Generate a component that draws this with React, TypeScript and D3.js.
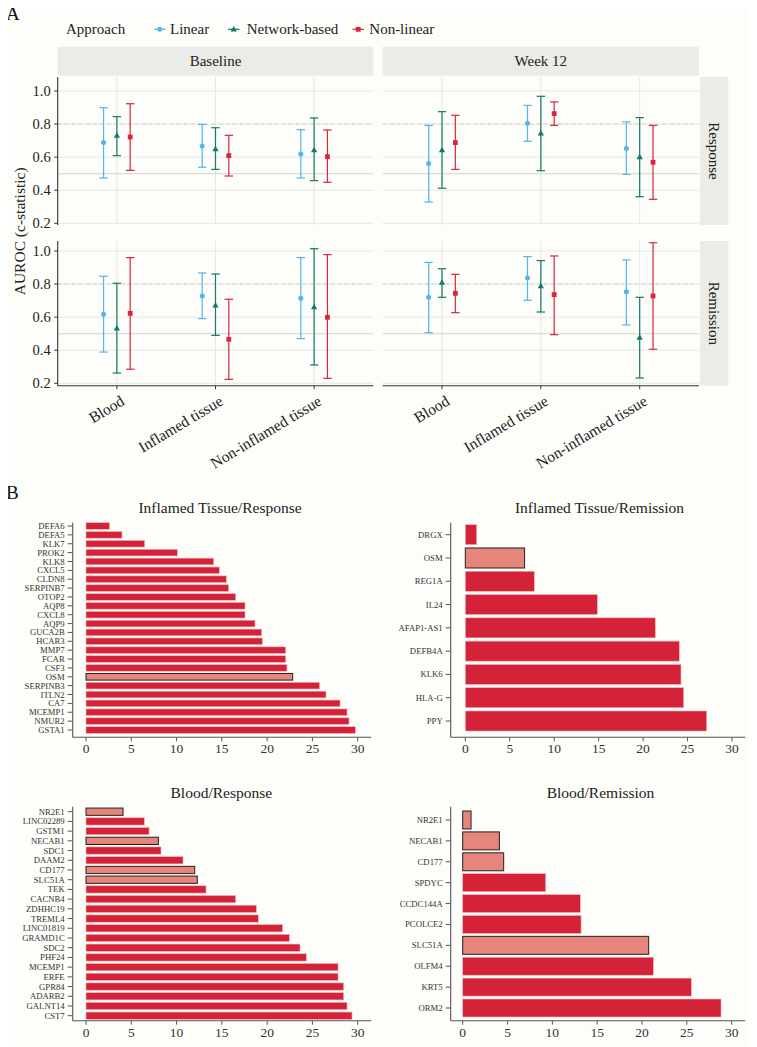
import React from "react";
import * as d3 from "d3";

const tissues = ["Blood", "Inflamed tissue", "Non-inflamed tissue"];
const approaches = ["Linear", "Network-based", "Non-linear"];
const timepoints = ["Baseline", "Week 12"];
const outcomes = ["Response", "Remission"];
const yTicks = [0.2, 0.4, 0.6, 0.8, 1.0];

// facet order: Baseline/Response, Week 12/Response, Baseline/Remission, Week 12/Remission
const linearEst = [[0.688, 0.667, 0.619], [0.561, 0.805, 0.653], [0.617, 0.728, 0.714], [0.72, 0.837, 0.754]];
const linearLo = [[0.474, 0.539, 0.474], [0.329, 0.696, 0.496], [0.389, 0.591, 0.47], [0.506, 0.702, 0.553]];
const linearHi = [[0.899, 0.798, 0.766], [0.792, 0.913, 0.813], [0.847, 0.867, 0.96], [0.931, 0.966, 0.946]];
const networkEst = [[0.73, 0.649, 0.643], [0.643, 0.744, 0.601], [0.532, 0.672, 0.661], [0.809, 0.788, 0.476]];
const networkLo = [[0.609, 0.526, 0.458], [0.412, 0.518, 0.361], [0.262, 0.49, 0.311], [0.72, 0.631, 0.232]];
const networkHi = [[0.845, 0.778, 0.837], [0.875, 0.968, 0.839], [0.805, 0.861, 1.014], [0.893, 0.942, 0.72]];
const nonlinearEst = [[0.722, 0.609, 0.603], [0.688, 0.863, 0.569], [0.623, 0.466, 0.599], [0.744, 0.736, 0.728]];
const nonlinearLo = [[0.52, 0.486, 0.448], [0.526, 0.792, 0.345], [0.285, 0.224, 0.23], [0.627, 0.494, 0.406]];
const nonlinearHi = [[0.923, 0.732, 0.764], [0.853, 0.934, 0.792], [0.96, 0.708, 0.978], [0.859, 0.97, 1.05]];

const approachColors = ["#56B4E9", "#127A66", "#D7263D"];

// Panel B
const itrGenes = ["DEFA6", "DEFA5", "KLK7", "PROK2", "KLK8", "CXCL5", "CLDN8", "SERPINB7", "OTOP2", "AQP8", "CXCL8", "AQP9", "GUCA2B", "HCAR3", "MMP7", "FCAR", "CSF3", "OSM", "SERPINB3", "ITLN2", "CA7", "MCEMP1", "NMUR2", "GSTA1"];
const itrValues = [2.61, 3.97, 6.48, 10.08, 14.1, 14.72, 15.5, 15.75, 16.53, 17.56, 17.56, 18.66, 19.4, 19.47, 22.05, 22.05, 22.19, 22.82, 25.8, 26.5, 28.05, 28.82, 29.04, 29.74];
const itrHighlight = ["OSM"];

const itmGenes = ["DRGX", "OSM", "REG1A", "IL24", "AFAP1-AS1", "DEFB4A", "KLK6", "HLA-G", "PPY"];
const itmValues = [1.27, 6.67, 7.76, 14.85, 21.37, 24.07, 24.26, 24.56, 27.15];
const itmHighlight = ["OSM"];

const brGenes = ["NR2E1", "LINC02289", "GSTM1", "NECAB1", "SDC1", "DAAM2", "CD177", "SLC51A", "TEK", "CACNB4", "ZDHHC19", "TREML4", "LINC01819", "GRAMD1C", "SDC2", "PHF24", "MCEMP1", "ERFE", "GPR84", "ADARB2", "GALNT14", "CST7"];
const brValues = [4.09, 6.44, 6.96, 7.99, 8.28, 10.71, 12.0, 12.29, 13.25, 16.53, 18.81, 19.03, 21.72, 22.45, 23.63, 24.33, 27.83, 27.83, 28.45, 28.45, 28.82, 29.37];
const brHighlight = ["NR2E1", "NECAB1", "CD177", "SLC51A"];

const bmGenes = ["NR2E1", "NECAB1", "CD177", "SPDYC", "CCDC144A", "PCOLCE2", "SLC51A", "OLFM4", "KRT5", "ORM2"];
const bmValues = [0.93, 4.09, 4.57, 9.26, 13.12, 13.2, 20.74, 21.26, 25.5, 28.81];
const bmHighlight = ["NR2E1", "NECAB1", "CD177", "SLC51A"];

const barTicks = [0, 5, 10, 15, 20, 25, 30];

const FONT = "'Liberation Serif', 'Times New Roman', serif";
const BG = "#FDFDF9";
const STRIP = "#EBEBE7";
const GRID = "#E5E5E0";
const BAR_RED = "#D42339";
const BAR_HL = "#E5857B";

function Marker({ kind, x, y, color }: { kind: number; x: number; y: number; color: string }) {
  if (kind === 0) return <circle cx={x} cy={y} r={2.5} fill={color} />;
  if (kind === 1) {
    const s = 3.3;
    const tri = d3.line()([[x, y - s], [x + s * 0.95, y + s * 0.65], [x - s * 0.95, y + s * 0.65]]) + "Z";
    return <path d={tri} fill={color} />;
  }
  return <rect x={x - 2.4} y={y - 2.4} width={4.8} height={4.8} fill={color} />;
}

function AurocPanel({ f, col, row, showY, showX }: any) {
  const x = d3.scalePoint().domain(tissues).range(col).padding(0.6);
  const y = d3.scaleLinear().domain([0.2, 1.0]).range([row.y02, row.y1]);
  const dodge = x.step() * 0.135;
  const series = [
    [linearEst, linearLo, linearHi],
    [networkEst, networkLo, networkHi],
    [nonlinearEst, nonlinearLo, nonlinearHi],
  ];
  return (
    <g>
      {yTicks.map((t) => (
        <line key={"h" + t} x1={col[0]} x2={col[1]} y1={y(t)} y2={y(t)} stroke={GRID} strokeWidth={0.9} />
      ))}
      {tissues.map((t) => (
        <line key={"v" + t} x1={x(t)} x2={x(t)} y1={row.top} y2={row.bottom} stroke={GRID} strokeWidth={0.9} />
      ))}
      <line x1={col[0]} x2={col[1]} y1={y(0.5)} y2={y(0.5)} stroke="#D3D3CE" strokeWidth={1.1} />
      <line x1={col[0]} x2={col[1]} y1={y(0.8)} y2={y(0.8)} stroke="#CFCFCB" strokeWidth={0.9} strokeDasharray="4,3" />
      {series.map((s, ai) =>
        tissues.map((t, ti) => {
          const cx = (x(t) as number) + (ai - 1) * dodge;
          const c = approachColors[ai];
          const est = s[0][f][ti], lo = s[1][f][ti], hi = s[2][f][ti];
          return (
            <g key={ai + "-" + ti}>
              <line x1={cx} x2={cx} y1={y(lo)} y2={y(hi)} stroke={c} strokeWidth={1.2} />
              <line x1={cx - 4.2} x2={cx + 4.2} y1={y(lo)} y2={y(lo)} stroke={c} strokeWidth={1.2} />
              <line x1={cx - 4.2} x2={cx + 4.2} y1={y(hi)} y2={y(hi)} stroke={c} strokeWidth={1.2} />
              <Marker kind={ai} x={cx} y={y(est)} color={c} />
            </g>
          );
        })
      )}
      {showY && (
        <g>
          <line x1={col[0]} x2={col[0]} y1={row.top} y2={row.bottom} stroke="#333" strokeWidth={1.1} />
          {yTicks.map((t) => (
            <g key={"yt" + t}>
              <line x1={col[0] - 3.5} x2={col[0]} y1={y(t)} y2={y(t)} stroke="#333" strokeWidth={1} />
              <text x={col[0] - 7} y={y(t)} dy="0.35em" textAnchor="end" fontSize={14.5} fill="#222">
                {d3.format(".1f")(t)}
              </text>
            </g>
          ))}
        </g>
      )}
      {showX && (
        <g>
          <line x1={col[0]} x2={col[1]} y1={row.bottom} y2={row.bottom} stroke="#333" strokeWidth={1.1} />
          {tissues.map((t) => (
            <g key={"xt" + t}>
              <line x1={x(t)} x2={x(t)} y1={row.bottom} y2={row.bottom + 3.5} stroke="#333" strokeWidth={1} />
              <text
                transform={`translate(${(x(t) as number) + 3},${row.bottom + 9}) rotate(-31)`}
                textAnchor="end"
                dy="0.7em"
                fontSize={15.5}
                fill="#222"
              >
                {t}
              </text>
            </g>
          ))}
        </g>
      )}
    </g>
  );
}

function BarPanel({ genes, values, hl, zeroX, thirtyX, axisX, topY, axisY, firstC, lastC, pad, title, titleX, titleY, labelSize }: any) {
  const x = d3.scaleLinear().domain([0, 30]).range([zeroX, thirtyX]);
  const step = (lastC - firstC) / (genes.length - 1);
  const y = d3
    .scaleBand()
    .domain(genes)
    .range([firstC - step / 2, lastC + step / 2])
    .paddingInner(pad)
    .paddingOuter(pad / 2);
  const axisEnd = x(31.5);
  return (
    <g>
      <text x={titleX} y={titleY} textAnchor="middle" fontSize={15.5} fill="#222">
        {title}
      </text>
      {genes.map((g: string, i: number) => {
        const isHl = hl.includes(g);
        return (
          <rect
            key={g + i}
            x={x(0)}
            y={y(g)}
            width={x(values[i]) - x(0)}
            height={y.bandwidth()}
            fill={isHl ? BAR_HL : BAR_RED}
            stroke={isHl ? "#222" : "#F2B3BA"}
            strokeWidth={isHl ? 1 : 0.6}
          />
        );
      })}
      <line x1={axisX} x2={axisX} y1={topY} y2={axisY} stroke="#555" strokeWidth={1.1} />
      {genes.map((g: string) => (
        <g key={"t" + g}>
          <line x1={axisX - 5} x2={axisX} y1={(y(g) as number) + y.bandwidth() / 2} y2={(y(g) as number) + y.bandwidth() / 2} stroke="#555" strokeWidth={1} />
          <text x={axisX - 8} y={(y(g) as number) + y.bandwidth() / 2} dy="0.35em" textAnchor="end" fontSize={labelSize} fill="#333">
            {g}
          </text>
        </g>
      ))}
      <line x1={axisX} x2={axisEnd} y1={axisY} y2={axisY} stroke="#555" strokeWidth={1.1} />
      {barTicks.map((t) => (
        <g key={"bx" + t}>
          <line x1={x(t)} x2={x(t)} y1={axisY} y2={axisY + 4} stroke="#555" strokeWidth={1} />
          <text x={x(t)} y={axisY + 16} textAnchor="middle" fontSize={13.5} fill="#333">
            {t}
          </text>
        </g>
      ))}
    </g>
  );
}

export default function App() {
  const cols = [
    [57.7, 373.3],
    [382.7, 699],
  ];
  const rows = [
    { top: 77, bottom: 225, y1: 91, y02: 223.3 },
    { top: 241, bottom: 385.7, y1: 251, y02: 383.3 },
  ];
  return (
    <svg width={757} height={1047} style={{ display: "block", fontFamily: FONT, marginLeft: -8, marginTop: -8 }}>
      <rect x={0} y={0} width={757} height={1047} fill={BG} />
      <text x={6} y={20} fontSize={19} fill="#111">A</text>
      {/* Legend */}
      <text x={66} y={34} fontSize={15} fill="#222">Approach</text>
      {approaches.map((a, i) => {
        const gx = [154, 228, 352.5][i];
        const tx = [170, 246.7, 369.3][i];
        return (
          <g key={a}>
            <line x1={gx} x2={gx + 11.5} y1={29.3} y2={29.3} stroke={approachColors[i]} strokeWidth={1.2} />
            <Marker kind={i} x={gx + 5.75} y={29.3} color={approachColors[i]} />
            <text x={tx} y={34} fontSize={15} fill="#222">{a}</text>
          </g>
        );
      })}
      {/* top strips */}
      {timepoints.map((t, c) => (
        <g key={t}>
          <rect x={cols[c][0]} y={46.7} width={cols[c][1] - cols[c][0]} height={29} fill={STRIP} />
          <text x={(cols[c][0] + cols[c][1]) / 2} y={61.2} dy="0.35em" textAnchor="middle" fontSize={15} fill="#222">
            {t}
          </text>
        </g>
      ))}
      {/* right strips */}
      {outcomes.map((o, r) => (
        <g key={o}>
          <rect x={700} y={rows[r].top} width={28.3} height={rows[r].bottom - rows[r].top} fill={STRIP} />
          <text
            transform={`translate(${714},${(rows[r].top + rows[r].bottom) / 2}) rotate(90)`}
            textAnchor="middle"
            dy="0.35em"
            fontSize={15}
            fill="#222"
          >
            {o}
          </text>
        </g>
      ))}
      {rows.map((row, r) =>
        cols.map((col, c) => (
          <AurocPanel key={r + "-" + c} f={r * 2 + c} col={col} row={row} showY={c === 0} showX={r === 1} />
        ))
      )}
      <text transform={`translate(25,${(77 + 385.7) / 2}) rotate(-90)`} textAnchor="middle" fontSize={15.5} fill="#222">
        AUROC (c-statistic)
      </text>

      {/* Panel B */}
      <text x={6} y={499} fontSize={19} fill="#111">B</text>
      <BarPanel genes={itrGenes} values={itrValues} hl={itrHighlight} zeroX={86} thirtyX={357.7} axisX={72.7} topY={522.7} axisY={737.3}
        firstC={526} lastC={730} pad={0.25} title="Inflamed Tissue/Response" titleX={220} titleY={513} labelSize={8.7} />
      <BarPanel genes={itmGenes} values={itmValues} hl={itmHighlight} zeroX={465.3} thirtyX={732} axisX={450.7} topY={522.7} axisY={737.3}
        firstC={534.7} lastC={721} pad={0.14} title="Inflamed Tissue/Remission" titleX={599.5} titleY={513} labelSize={8.7} />
      <BarPanel genes={brGenes} values={brValues} hl={brHighlight} zeroX={86} thirtyX={357.7} axisX={72.7} topY={806.7} axisY={1020.7}
        firstC={811.7} lastC={1015.7} pad={0.25} title="Blood/Response" titleX={221.3} titleY={798} labelSize={8.7} />
      <BarPanel genes={bmGenes} values={bmValues} hl={bmHighlight} zeroX={462.7} thirtyX={731.7} axisX={450.7} topY={806.7} axisY={1020.7}
        firstC={820} lastC={1008} pad={0.14} title="Blood/Remission" titleX={600.5} titleY={798} labelSize={8.7} />
    </svg>
  );
}
